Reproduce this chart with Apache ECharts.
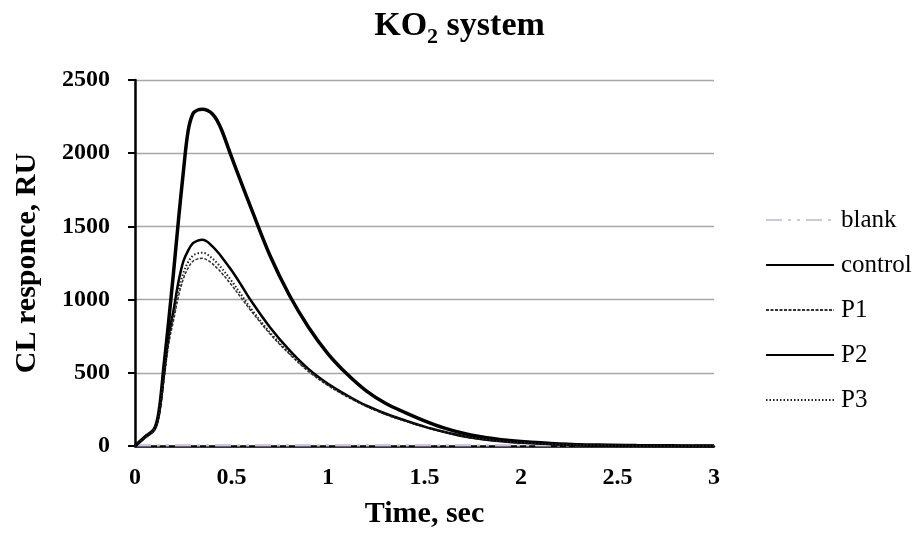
<!DOCTYPE html>
<html>
<head>
<meta charset="utf-8">
<script src="https://cdn.jsdelivr.net/npm/echarts@6/dist/echarts.min.js"></script>
<style>
  html, body { margin: 0; padding: 0; background: #fff; }
  #main { width: 919px; height: 533px; }
</style>
</head>
<body>
<div id="main"></div>
<script>
// data
var times = [0, 0.05, 0.1, 0.125, 0.15, 0.175, 0.2, 0.225, 0.25, 0.275, 0.3, 0.325, 0.35, 0.375, 0.4, 0.425, 0.45, 0.5, 0.55, 0.6, 0.7, 0.8, 0.9, 1.0, 1.1, 1.2, 1.3, 1.4, 1.5, 1.6, 1.7, 1.8, 1.9, 2.0, 2.2, 2.4, 2.6, 2.8, 3.0];
var control = [0, 60, 115, 240, 545, 860, 1190, 1540, 1865, 2150, 2270, 2295, 2300, 2292, 2270, 2225, 2155, 1975, 1800, 1630, 1300, 1030, 810, 630, 490, 375, 290, 228, 172, 124, 87, 61, 43, 30, 14, 6, 3, 1, 0];
var p1 = [0, 58, 110, 215, 450, 700, 860, 1020, 1140, 1215, 1262, 1278, 1282, 1270, 1246, 1215, 1180, 1100, 1012, 925, 765, 628, 508, 413, 336, 270, 215, 170, 129, 95, 66, 46, 32, 22, 11, 5, 2, 1, 0];
var p2 = [0, 60, 115, 230, 490, 755, 930, 1120, 1260, 1335, 1385, 1403, 1408, 1395, 1365, 1330, 1290, 1200, 1100, 995, 810, 655, 525, 425, 345, 275, 220, 175, 132, 97, 67, 46, 32, 22, 11, 5, 2, 1, 0];
var p3 = [0, 58, 112, 220, 470, 730, 890, 1060, 1180, 1255, 1300, 1316, 1320, 1308, 1282, 1250, 1213, 1128, 1035, 940, 775, 635, 515, 418, 340, 272, 217, 172, 130, 96, 66, 46, 32, 22, 11, 5, 2, 1, 0];
var blankTimes = [0, 0.5, 1, 1.5, 2, 2.5, 3];
var blank = [5, 5, 5, 5, 5, 5, 5];

var FONT = "'Liberation Serif', 'Times New Roman', serif";

function pairs(xs, ys) {
  var out = [];
  for (var i = 0; i < xs.length; i++) out.push([xs[i], ys[i]]);
  return out;
}

function lineSeries(name, xs, ys, style) {
  return {
    name: name,
    type: 'line',
    data: pairs(xs, ys),
    symbol: 'none',
    smooth: 0.35,
    lineStyle: style,
    itemStyle: { color: style.color },
    emphasis: { disabled: true }
  };
}

var chart = echarts.init(document.getElementById('main'));
chart.setOption({
  animation: false,
  backgroundColor: '#ffffff',
  title: {
    text: '{a|KO}{b|2}{a| system}',
    left: 'center',
    top: 4,
    padding: 0,
    textStyle: {
      rich: {
        a: { fontFamily: FONT, fontSize: 34, fontWeight: 'bold', color: '#000', lineHeight: 44 },
        b: { fontFamily: FONT, fontSize: 22, fontWeight: 'bold', color: '#000', lineHeight: 22, verticalAlign: 'bottom' }
      }
    }
  },
  legend: {
    orient: 'vertical',
    left: 765,
    top: 207,
    padding: 0,
    itemWidth: 68,
    itemHeight: 14,
    itemGap: 19,
    itemStyle: { opacity: 0 },
    textStyle: { fontFamily: FONT, fontSize: 25, color: '#000', lineHeight: 26, padding: [0, 0, 0, 2] },
    data: ['blank', 'control', 'P1', 'P2', 'P3']
  },
  grid: { left: 135, right: 205, top: 80, bottom: 87, outerBoundsMode: 'none' },
  xAxis: {
    type: 'value',
    min: 0,
    max: 3,
    interval: 0.5,
    name: 'Time, sec',
    nameLocation: 'middle',
    nameGap: 53,
    nameTextStyle: { fontFamily: FONT, fontSize: 30, fontWeight: 'bold', color: '#000' },
    axisLine: { show: true, onZero: false, lineStyle: { color: '#000', width: 2.5 } },
    axisTick: { show: false },
    splitLine: { show: false },
    axisLabel: { fontFamily: FONT, fontSize: 24, fontWeight: 'bold', color: '#000', margin: 20 }
  },
  yAxis: {
    type: 'value',
    min: 0,
    max: 2500,
    interval: 500,
    name: 'CL responce, RU',
    nameLocation: 'middle',
    nameGap: 93,
    nameTextStyle: { fontFamily: FONT, fontSize: 30, fontWeight: 'bold', color: '#000' },
    axisLine: { show: true, lineStyle: { color: '#000', width: 2.5 } },
    axisTick: { show: true, inside: false, length: 7, lineStyle: { color: '#000', width: 2 } },
    splitLine: { show: true, lineStyle: { color: '#a6a6a6', width: 1.3 } },
    axisLabel: {
      fontFamily: FONT, fontSize: 24, fontWeight: 'bold', color: '#000', margin: 25,
      formatter: function (v) { return String(v); }
    }
  },
  series: [
    lineSeries('blank', blankTimes, blank, { color: '#cfc7df', width: 2.5, type: [16, 6, 3, 6, 3, 6] }),
    lineSeries('control', times, control, { color: '#000', width: 3.5, type: 'solid' }),
    lineSeries('P1', times, p1, { color: '#333', width: 1.5, type: [3, 1.5] }),
    lineSeries('P2', times, p2, { color: '#000', width: 2.5, type: 'solid' }),
    lineSeries('P3', times, p3, { color: '#222', width: 2, type: [1.5, 2] })
  ]
});
</script>
</body>
</html>
